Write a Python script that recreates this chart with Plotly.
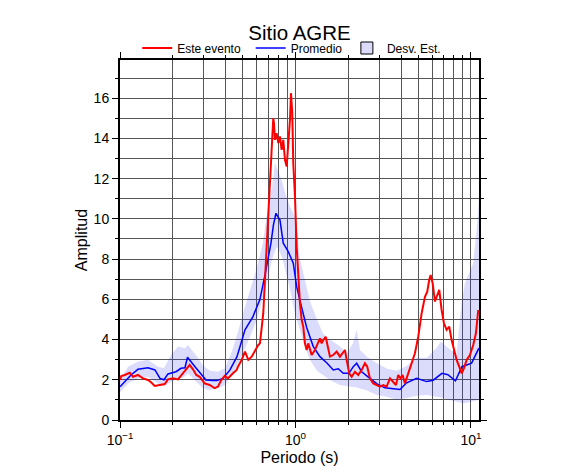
import plotly.graph_objects as go

# ---------------- data ----------------
# Este evento (red)
event_period = [0.100, 0.1017, 0.1064, 0.1136, 0.1186, 0.1266, 0.1352, 0.1444, 0.1508, 0.1577,
                0.1684, 0.1798, 0.1877, 0.2004, 0.2140, 0.2286, 0.2387, 0.2496, 0.2606, 0.2722,
                0.2845, 0.3039, 0.3245, 0.3465, 0.3617, 0.3777, 0.3950, 0.4125, 0.4405, 0.4624,
                0.4703, 0.4937, 0.5157, 0.5385, 0.5630, 0.5878, 0.6138, 0.6276, 0.6418, 0.6554,
                0.6702, 0.6853, 0.6998, 0.7156, 0.7317, 0.7472, 0.7541, 0.7641, 0.7810, 0.7980,
                0.8157, 0.8344, 0.8521, 0.8713, 0.8910, 0.9099, 0.9304, 0.9427, 0.9590, 0.9716,
                0.9936, 1.0158, 1.0375, 1.0607, 1.0847, 1.1077, 1.1326, 1.1582, 1.1827, 1.2094,
                1.2367, 1.2914, 1.3486, 1.3793, 1.4104, 1.4402, 1.4864, 1.5179, 1.5726, 1.6423,
                1.7172, 1.7932, 1.8726, 1.9149, 1.9578, 2.0261, 2.0906, 2.1827, 2.2793, 2.3834,
                2.4889, 2.5654, 2.6576, 2.7746, 2.9018, 3.0303, 3.1644, 3.3087, 3.4552, 3.6080,
                3.7374, 3.8527, 3.9755, 4.0811, 4.2063, 4.3924, 4.5931, 4.7966, 5.0085, 5.2371,
                5.4686, 5.6364, 5.7864, 5.8940, 6.0509, 6.2365, 6.3774, 6.5983, 6.8077, 7.0178,
                7.2694, 7.5214, 7.7625, 8.0004, 8.2890, 8.5768, 8.8512, 9.1225, 9.4514, 9.8696,
                10.306, 10.678, 11.005]
event_amp = [1.99, 2.19, 2.24, 2.35, 2.15, 2.24, 2.07, 1.99, 1.86, 1.69,
             1.74, 1.79, 2.02, 2.07, 2.02, 2.32, 2.57, 2.74, 2.52, 2.24,
             2.15, 1.82, 1.74, 1.58, 1.66, 1.99, 2.19, 2.07, 2.32, 2.49,
             2.65, 2.99, 3.40, 2.99, 3.15, 3.48, 3.73, 3.81, 4.64, 5.31,
             6.97, 8.62, 10.28, 11.94, 13.60, 15.00, 14.76, 13.93, 14.26, 13.77,
             14.10, 13.43, 13.93, 12.94, 12.60, 13.60, 14.93, 16.25, 15.26, 12.77,
             11.11, 8.62, 6.97, 5.80, 4.98, 4.64, 3.81, 3.48, 3.81, 3.48,
             3.23, 3.48, 3.90, 4.06, 3.81, 3.98, 4.14, 3.81, 3.15, 3.23,
             3.40, 3.15, 3.40, 3.48, 2.99, 2.32, 2.15, 2.40, 2.24, 2.49,
             2.82, 2.65, 2.07, 1.82, 1.74, 1.66, 1.74, 1.66, 2.07, 1.91,
             1.74, 2.24, 2.07, 2.24, 1.82, 2.32, 2.82, 3.32, 4.14, 5.31,
             6.13, 6.38, 6.97, 7.21, 6.80, 5.89, 6.13, 6.47, 5.47, 4.81,
             4.48, 4.64, 3.98, 3.48, 2.99, 2.65, 2.32, 2.57, 2.99, 3.23,
             3.73, 4.31, 5.47]

# Promedio (blue)
mean_period = [0.100, 0.1155, 0.1266, 0.1444, 0.1582, 0.1690, 0.1781, 0.1877, 0.2085, 0.2226,
               0.2346, 0.2424, 0.2676, 0.2856, 0.3090, 0.3388, 0.3570, 0.3863, 0.4235, 0.4642,
               0.5157, 0.5725, 0.6275, 0.6701, 0.7016, 0.7250, 0.7491, 0.7740, 0.7946, 0.8157,
               0.8521, 0.9099, 0.9716, 1.0158, 1.0847, 1.1582, 1.2634, 1.3793, 1.5058, 1.6427,
               1.7536, 1.8730, 2.0174, 2.1351, 2.2327, 2.3838, 2.6576, 2.9137, 3.2359, 3.5479,
               3.9380, 4.3025, 4.9055, 5.5928, 6.0984, 6.8365, 7.3929, 8.1614, 8.8839, 10.09,
               11.10]
mean_amp = [1.65, 2.24, 2.52, 2.60, 2.49, 2.07, 2.00, 2.29, 2.40, 2.57,
            2.60, 3.12, 2.65, 2.35, 1.99, 1.96, 1.96, 2.07, 2.49, 3.15,
            4.48, 5.14, 6.00, 7.20, 8.10, 8.80, 9.70, 10.28, 10.10, 9.95,
            8.79, 8.37, 7.80, 6.63, 5.60, 4.60, 3.65, 3.15, 2.85, 2.49,
            2.55, 2.32, 2.32, 2.65, 2.82, 2.40, 2.07, 1.80, 1.60, 1.55,
            1.52, 1.85, 2.07, 1.91, 1.98, 2.32, 2.25, 1.95, 2.65, 2.83,
            3.57]

# Desv. Est. band
band_period = [0.100, 0.1111, 0.1266, 0.1444, 0.1646, 0.1781, 0.1953, 0.2140, 0.2346, 0.2441,
               0.2606, 0.2783, 0.2972, 0.3258, 0.3617, 0.3965, 0.4291, 0.4642, 0.5022, 0.5505,
               0.6035, 0.6528, 0.6970, 0.7346, 0.7641, 0.7844, 0.8378, 0.8713, 0.9304, 0.9936,
               1.0198, 1.0607, 1.1326, 1.2094, 1.3264, 1.4347, 1.5726, 1.7932, 1.9657, 2.1265,
               2.2327, 2.3309, 2.5551, 2.9137, 3.3226, 3.7868, 4.3185, 4.9248, 5.6148, 6.4012,
               6.7463, 7.5916, 8.2890, 8.4878, 8.8512, 9.2423, 9.8696, 10.306, 10.777, 11.11]
band_upper = [1.99, 2.65, 2.90, 2.99, 2.65, 2.57, 3.23, 3.65, 3.57, 3.73,
              3.40, 3.10, 2.70, 2.45, 2.40, 2.57, 3.30, 4.20, 5.30, 6.50,
              7.60, 8.80, 10.6, 11.5, 12.8, 12.5, 11.9, 11.3, 10.6, 10.1,
              9.5, 8.0, 7.0, 5.9, 5.0, 4.3, 4.0, 3.65, 3.32, 3.81,
              4.48, 3.48, 3.15, 2.82, 2.55, 2.45, 2.70, 3.10, 3.10, 3.60,
              3.90, 3.50, 3.30, 4.30, 5.80, 6.80, 7.40, 7.80, 9.40, 11.0]
band_lower = [1.38, 1.82, 2.07, 2.15, 1.82, 1.66, 1.90, 2.05, 2.18, 2.32,
              2.07, 1.82, 1.58, 1.49, 1.58, 1.74, 2.20, 2.65, 3.30, 4.14,
              4.98, 6.10, 6.97, 7.96, 8.40, 8.62, 8.12, 7.50, 6.50, 5.31,
              5.00, 4.48, 3.65, 3.00, 2.45, 2.24, 1.99, 1.74, 1.68, 1.64,
              1.62, 1.58, 1.47, 1.24, 1.15, 1.00, 1.10, 1.20, 1.24, 1.16,
              1.12, 1.00, 0.92, 0.90, 0.85, 0.84, 0.90, 0.95, 0.98, 0.99]

x_major_ticks = [0.1, 1, 10]
x_major_labels = ["10<sup>\u22121</sup>", "10<sup>0</sup>", "10<sup>1</sup>"]
x_minor_ticks = [m * d for d in (0.1, 1, 10) for m in range(2, 10)]

# ---------------- figure ----------------
FONT = "Liberation Sans, Arial, Helvetica, sans-serif"
GRID = "rgb(85,85,85)"
BAND_FILL = "rgba(40,40,230,0.17)"

fig = go.Figure()

fig.add_trace(go.Scatter(
    x=band_period + band_period[::-1],
    y=band_upper + band_lower[::-1],
    fill="toself", fillcolor=BAND_FILL, line=dict(width=0),
    mode="lines", hoverinfo="skip", showlegend=False))

fig.add_trace(go.Scatter(
    x=mean_period, y=mean_amp, mode="lines", name="Promedio",
    line=dict(color="rgb(0,0,255)", width=1.5), legend="legend2"))

fig.add_trace(go.Scatter(
    x=event_period, y=event_amp, mode="lines", name="Este evento",
    line=dict(color="rgb(255,0,0)", width=2), legend="legend"))

# legend-only entry for the band (square swatch)
fig.add_trace(go.Bar(
    x=[None], y=[None], name="Desv. Est.",
    marker=dict(color="rgb(220,220,250)", line=dict(color="black", width=1)),
    legend="legend3"))

LEG_Y = 1 - 40 / 475
leg_common = dict(orientation="h", y=LEG_Y, yanchor="middle", yref="container",
                  xanchor="left", font=dict(size=12, family=FONT),
                  bgcolor="rgba(0,0,0,0)", itemwidth=30)

fig.update_layout(
    width=586, height=475,
    margin=dict(l=112, r=115, t=52, b=63, autoexpand=False),
    paper_bgcolor="white", plot_bgcolor="white",
    font=dict(family=FONT, size=14, color="black"),
    title=dict(text="Sitio AGRE", x=291.5 / 586, xanchor="center", xref="container",
               y=1 - 25 / 475, yanchor="middle", yref="container",
               font=dict(size=20.5, family=FONT, color="black")),
    legend=dict(x=0.048, **leg_common),
    legend2=dict(x=0.364, **leg_common),
    legend3=dict(x=0.632, **leg_common),
    showlegend=True,
)

fig.update_xaxes(
    type="log", range=[-1, 1.046], automargin=False,
    tickmode="array", tickvals=x_major_ticks, ticktext=x_major_labels,
    ticks="outside", ticklen=6, tickwidth=1, tickcolor="black",
    showgrid=True, gridcolor=GRID, gridwidth=1,
    minor=dict(tickmode="array", tickvals=x_minor_ticks, ticks="outside", ticklen=3,
               tickcolor="black", showgrid=True, gridcolor=GRID, gridwidth=1),
    showline=True, linecolor="black", linewidth=2, mirror="ticks",
    zeroline=False,
    title=dict(text="Periodo (s)", font=dict(size=16, family=FONT), standoff=5),
    tickfont=dict(size=14, family=FONT),
)

fig.update_yaxes(
    range=[0, 17.9], tickmode="linear", tick0=0, dtick=2, automargin=False,
    ticks="outside", ticklen=6, tickwidth=1, tickcolor="black",
    showgrid=True, gridcolor=GRID, gridwidth=1,
    minor=dict(dtick=1, ticks="outside", ticklen=3, tickcolor="black",
               showgrid=True, gridcolor=GRID, gridwidth=1),
    showline=True, linecolor="black", linewidth=2, mirror="ticks",
    zeroline=False,
    title=dict(text="Amplitud", font=dict(size=16, family=FONT), standoff=2),
    tickfont=dict(size=14, family=FONT),
)

fig.write_html("out.html")
